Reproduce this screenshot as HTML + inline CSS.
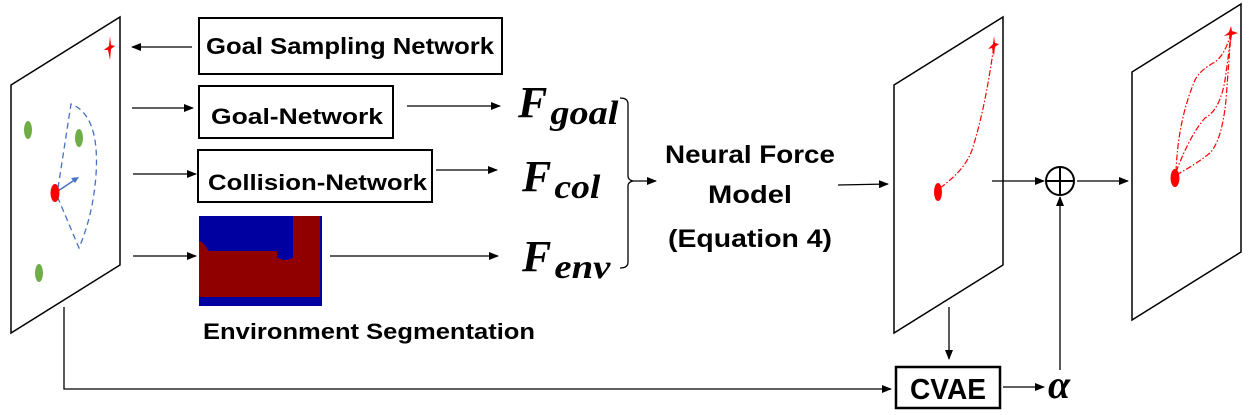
<!DOCTYPE html>
<html><head><meta charset="utf-8"><style>
html,body{margin:0;padding:0;background:#fff;}
svg{display:block;}
.t{font-family:"Liberation Sans","DejaVu Sans",sans-serif;font-weight:bold;fill:#000;}
.f{font-family:"Liberation Serif","DejaVu Serif",serif;font-weight:bold;font-style:italic;fill:#000;}
</style></head><body>
<svg width="1254" height="415" viewBox="0 0 1254 415" xmlns="http://www.w3.org/2000/svg">
<defs>
<marker id="a" markerWidth="10" markerHeight="8" refX="9" refY="4" orient="auto" markerUnits="userSpaceOnUse">
<path d="M0,0 L10,4 L0,8 z" fill="#000"/></marker>
</defs>
<g fill="none" stroke="#000" stroke-width="1.5">
<polygon points="11,85 120,17 120,265 11,333" fill="#fff"/>
<polygon points="894,85 1003,17 1003,265 894,333" fill="#fff"/>
<polygon points="1132,72 1241,4 1241,252 1132,320" fill="#fff"/>
<rect x="199" y="18" width="303" height="56" stroke-width="2"/>
<rect x="199" y="86" width="194" height="52" stroke-width="2"/>
<rect x="198" y="150" width="234" height="52" stroke-width="2"/>
<rect x="896" y="367" width="104" height="41" stroke-width="2.5"/>
</g>
<g stroke="#000" stroke-width="1.3" fill="none">
<line x1="192" y1="47" x2="132" y2="47" marker-end="url(#a)"/>
<line x1="132" y1="108" x2="193" y2="108" marker-end="url(#a)"/>
<line x1="407" y1="106" x2="500" y2="106" marker-end="url(#a)"/>
<line x1="133" y1="174" x2="196" y2="174" marker-end="url(#a)"/>
<line x1="436" y1="170" x2="497" y2="170" marker-end="url(#a)"/>
<line x1="133" y1="256" x2="196" y2="256" marker-end="url(#a)"/>
<line x1="330" y1="256" x2="498" y2="256" marker-end="url(#a)"/>
<path d="M620,98 Q628,98 628,104 L628,176 Q628,180 633,181 Q628,182 628,186 L628,262 Q628,268 620,268"/>
<line x1="633" y1="181" x2="656" y2="181" marker-end="url(#a)"/>
<line x1="838" y1="185" x2="888" y2="184" marker-end="url(#a)"/>
<polyline points="64,307 64,389 891,389" marker-end="url(#a)"/>
<line x1="949" y1="307" x2="949" y2="359" marker-end="url(#a)"/>
<line x1="1003" y1="387" x2="1044" y2="387" marker-end="url(#a)"/>
<line x1="992" y1="181" x2="1044" y2="181" marker-end="url(#a)"/>
<line x1="1060" y1="370" x2="1060" y2="197" marker-end="url(#a)"/>
<line x1="1077" y1="181" x2="1128" y2="181" marker-end="url(#a)"/>
<circle cx="1060" cy="181" r="14" stroke-width="2"/>
<line x1="1046" y1="181" x2="1074" y2="181" stroke-width="2"/>
<line x1="1060" y1="167" x2="1060" y2="195" stroke-width="2"/>
</g>
<ellipse cx="28" cy="130" rx="4" ry="9" fill="#70ad47"/>
<ellipse cx="79" cy="138" rx="4" ry="9" fill="#70ad47"/>
<ellipse cx="39" cy="273" rx="4" ry="9" fill="#70ad47"/>
<path d="M58,188 L71,104 Q100,115 96,175 Q93,215 79,248 L58,198" fill="none" stroke="#4472c4" stroke-width="1.3" stroke-dasharray="6,4"/>
<line x1="58" y1="191" x2="76" y2="179" stroke="#4472c4" stroke-width="1.5"/>
<path d="M79,177 L71,178 L75,183 z" fill="#4472c4"/>
<ellipse cx="55" cy="193" rx="4.5" ry="9" fill="#f00"/>
<path d="M110,36 L111,45 L115,46 L111,49 L110,60 L108,50 L104,50 L109,46 z" fill="#f00"/>
<path d="M994,36 L995,43 L999,44 L995,47 L994,56 L992,48 L988,49 L993,44 z" fill="#f00"/>
<path d="M940,188 Q965,170 972,150 Q985,110 994,45" fill="none" stroke="#f00" stroke-width="1.2" stroke-dasharray="6,2,1.5,2"/>
<ellipse cx="938" cy="192" rx="4" ry="9" fill="#f00"/>
<path d="M1231,26 L1232,31 L1238,33 L1232,35 L1231,42 L1229,35 L1224,36 L1229,32 z" fill="#f00"/>
<g fill="none" stroke="#f00" stroke-width="1.2" stroke-dasharray="6,2,1.5,2">
<path d="M1176,172 Q1178,120 1195,80 Q1200,70 1215,62 Q1225,55 1231,33"/>
<path d="M1176,172 Q1190,135 1205,118 Q1220,110 1225,80 Q1228,60 1231,33"/>
<path d="M1176,175 Q1195,165 1210,153 Q1222,140 1226,100 Q1229,60 1231,33"/>
</g>
<ellipse cx="1175" cy="178" rx="4.5" ry="9" fill="#f00"/>
<rect x="199" y="216" width="123" height="90" fill="#0000a0"/>
<path d="M199,241 L202,242 L209,251 L277,251 L277,257 Q280,260 287,260 L293,258 L293,216 L320,216 L320,297 L199,297 z" fill="#900000"/>
<text class="t" x="206" y="54" font-size="23" textLength="288" lengthAdjust="spacingAndGlyphs">Goal Sampling Network</text>
<text class="t" x="211" y="124" font-size="22" textLength="172" lengthAdjust="spacingAndGlyphs">Goal-Network</text>
<text class="t" x="208" y="190" font-size="22" textLength="219" lengthAdjust="spacingAndGlyphs">Collision-Network</text>
<text class="t" x="203" y="339" font-size="22" textLength="332" lengthAdjust="spacingAndGlyphs">Environment Segmentation</text>
<text class="t" x="665" y="163" font-size="25" textLength="170" lengthAdjust="spacingAndGlyphs">Neural Force</text>
<text class="t" x="708" y="203" font-size="25" textLength="84" lengthAdjust="spacingAndGlyphs">Model</text>
<text class="t" x="668" y="247" font-size="25" textLength="164" lengthAdjust="spacingAndGlyphs">(Equation 4)</text>
<text class="t" x="910" y="399" font-size="29" textLength="76" lengthAdjust="spacingAndGlyphs">CVAE</text>
<text class="f" x="518" y="117" font-size="44">F<tspan font-size="34" dy="7" dx="3" textLength="68" lengthAdjust="spacingAndGlyphs">goal</tspan></text>
<text class="f" x="522" y="191" font-size="44">F<tspan font-size="34" dy="7" dx="3" textLength="46" lengthAdjust="spacingAndGlyphs">col</tspan></text>
<text class="f" x="522" y="271" font-size="44">F<tspan font-size="34" dy="7" dx="3" textLength="56" lengthAdjust="spacingAndGlyphs">env</tspan></text>
<text class="f" x="1048" y="398" font-size="40">α</text>
</svg>
</body></html>
